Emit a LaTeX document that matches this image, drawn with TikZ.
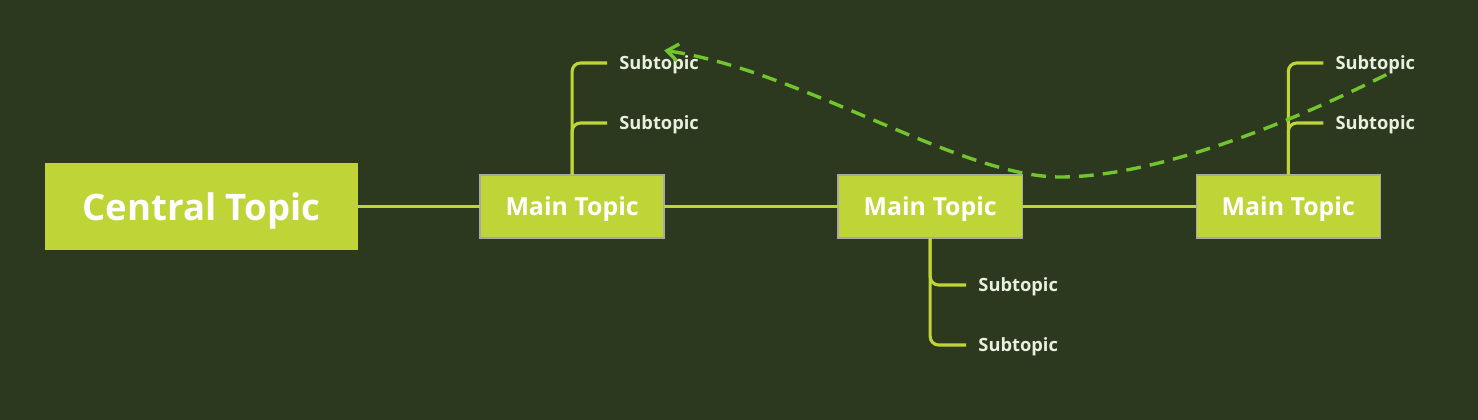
\documentclass[tikz,border=0pt]{standalone}
\usepackage{fontspec}
\setmainfont{Open Sans}
\usepackage{xcolor}
\usepackage{tikz}
\usetikzlibrary{arrows.meta,calc,positioning}
\definecolor{mmbg}{HTML}{2C391F}
\definecolor{mmlime}{HTML}{BFD437}
\definecolor{mmedge}{HTML}{A8A8A8}
\definecolor{mmlink}{HTML}{72C52E}
\definecolor{mmsub}{HTML}{E8EFDF}
\tikzset{
  central/.style={fill=mmlime,minimum width=7.825cm,minimum height=2.175cm,inner sep=0pt,
    outer sep=0pt,text depth=0pt,font=\bfseries\fontsize{26}{30}\selectfont,text=white},
  maintopic/.style={draw=mmedge,line width=1pt,fill=mmlime,minimum width=4.6cm,
    minimum height=1.575cm,inner sep=0pt,outer sep=0pt,text depth=0pt,
    font=\bfseries\fontsize{17.7}{20}\selectfont,text=white},
  subtopic/.style={anchor=west,inner xsep=0.3cm,inner ysep=1pt,text depth=0pt,
    font=\bfseries\fontsize{13}{16}\selectfont,text=mmsub},
  branch/.style={draw=mmlime,line width=2.2pt,rounded corners=6pt},
  relation/.style={draw=mmlink,line width=2.4pt,dash pattern=on 10.5pt off 6.5pt,
    -{Straight Barb[length=8pt,width=12pt]}}
}
\begin{document}
\begin{tikzpicture}[x=0.025cm,y=-0.025cm]
  \fill[mmbg] (0,0) rectangle (1478,420);
  \node[central] (ct) at (201.5,206.5) {Central Topic};
  \node[maintopic,right=3.05cm of ct] (mt1) {Main Topic};
  \node[maintopic,right=4.35cm of mt1] (mt2) {Main Topic};
  \node[maintopic,right=4.35cm of mt2] (mt3) {Main Topic};
  % subtopics
  \node[subtopic] (s1a) at ($(mt1.north)+(35,-112)$) {Subtopic};
  \node[subtopic] (s1b) at ($(mt1.north)+(35,-52)$) {Subtopic};
  \node[subtopic] (s2a) at ($(mt2.south)+(36,47)$) {Subtopic};
  \node[subtopic] (s2b) at ($(mt2.south)+(36,107)$) {Subtopic};
  \node[subtopic] (s3a) at ($(mt3.north)+(35,-112)$) {Subtopic};
  \node[subtopic] (s3b) at ($(mt3.north)+(35,-52)$) {Subtopic};
  \draw[branch] (ct.east) -- (mt1.west);
  \draw[branch] (mt1.east) -- (mt2.west);
  \draw[branch] (mt2.east) -- (mt3.west);
  \foreach \m/\s in {mt1/s1a,mt1/s1b,mt3/s3a,mt3/s3b}
    \draw[branch] (\m.north) |- (\s.west);
  \foreach \s in {s2a,s2b}
    \draw[branch] (mt2.south) |- (\s.west);
  % relation line
  \coordinate (dip) at (1060,177);
  \draw[relation] ($(s3a.south)+(11,3)$) .. controls (1300,118) and (1160,177) .. (dip)
    .. controls (960,177) and (800,70) .. ($(s1a.north)+(5,-4)$);
\end{tikzpicture}
\end{document}
